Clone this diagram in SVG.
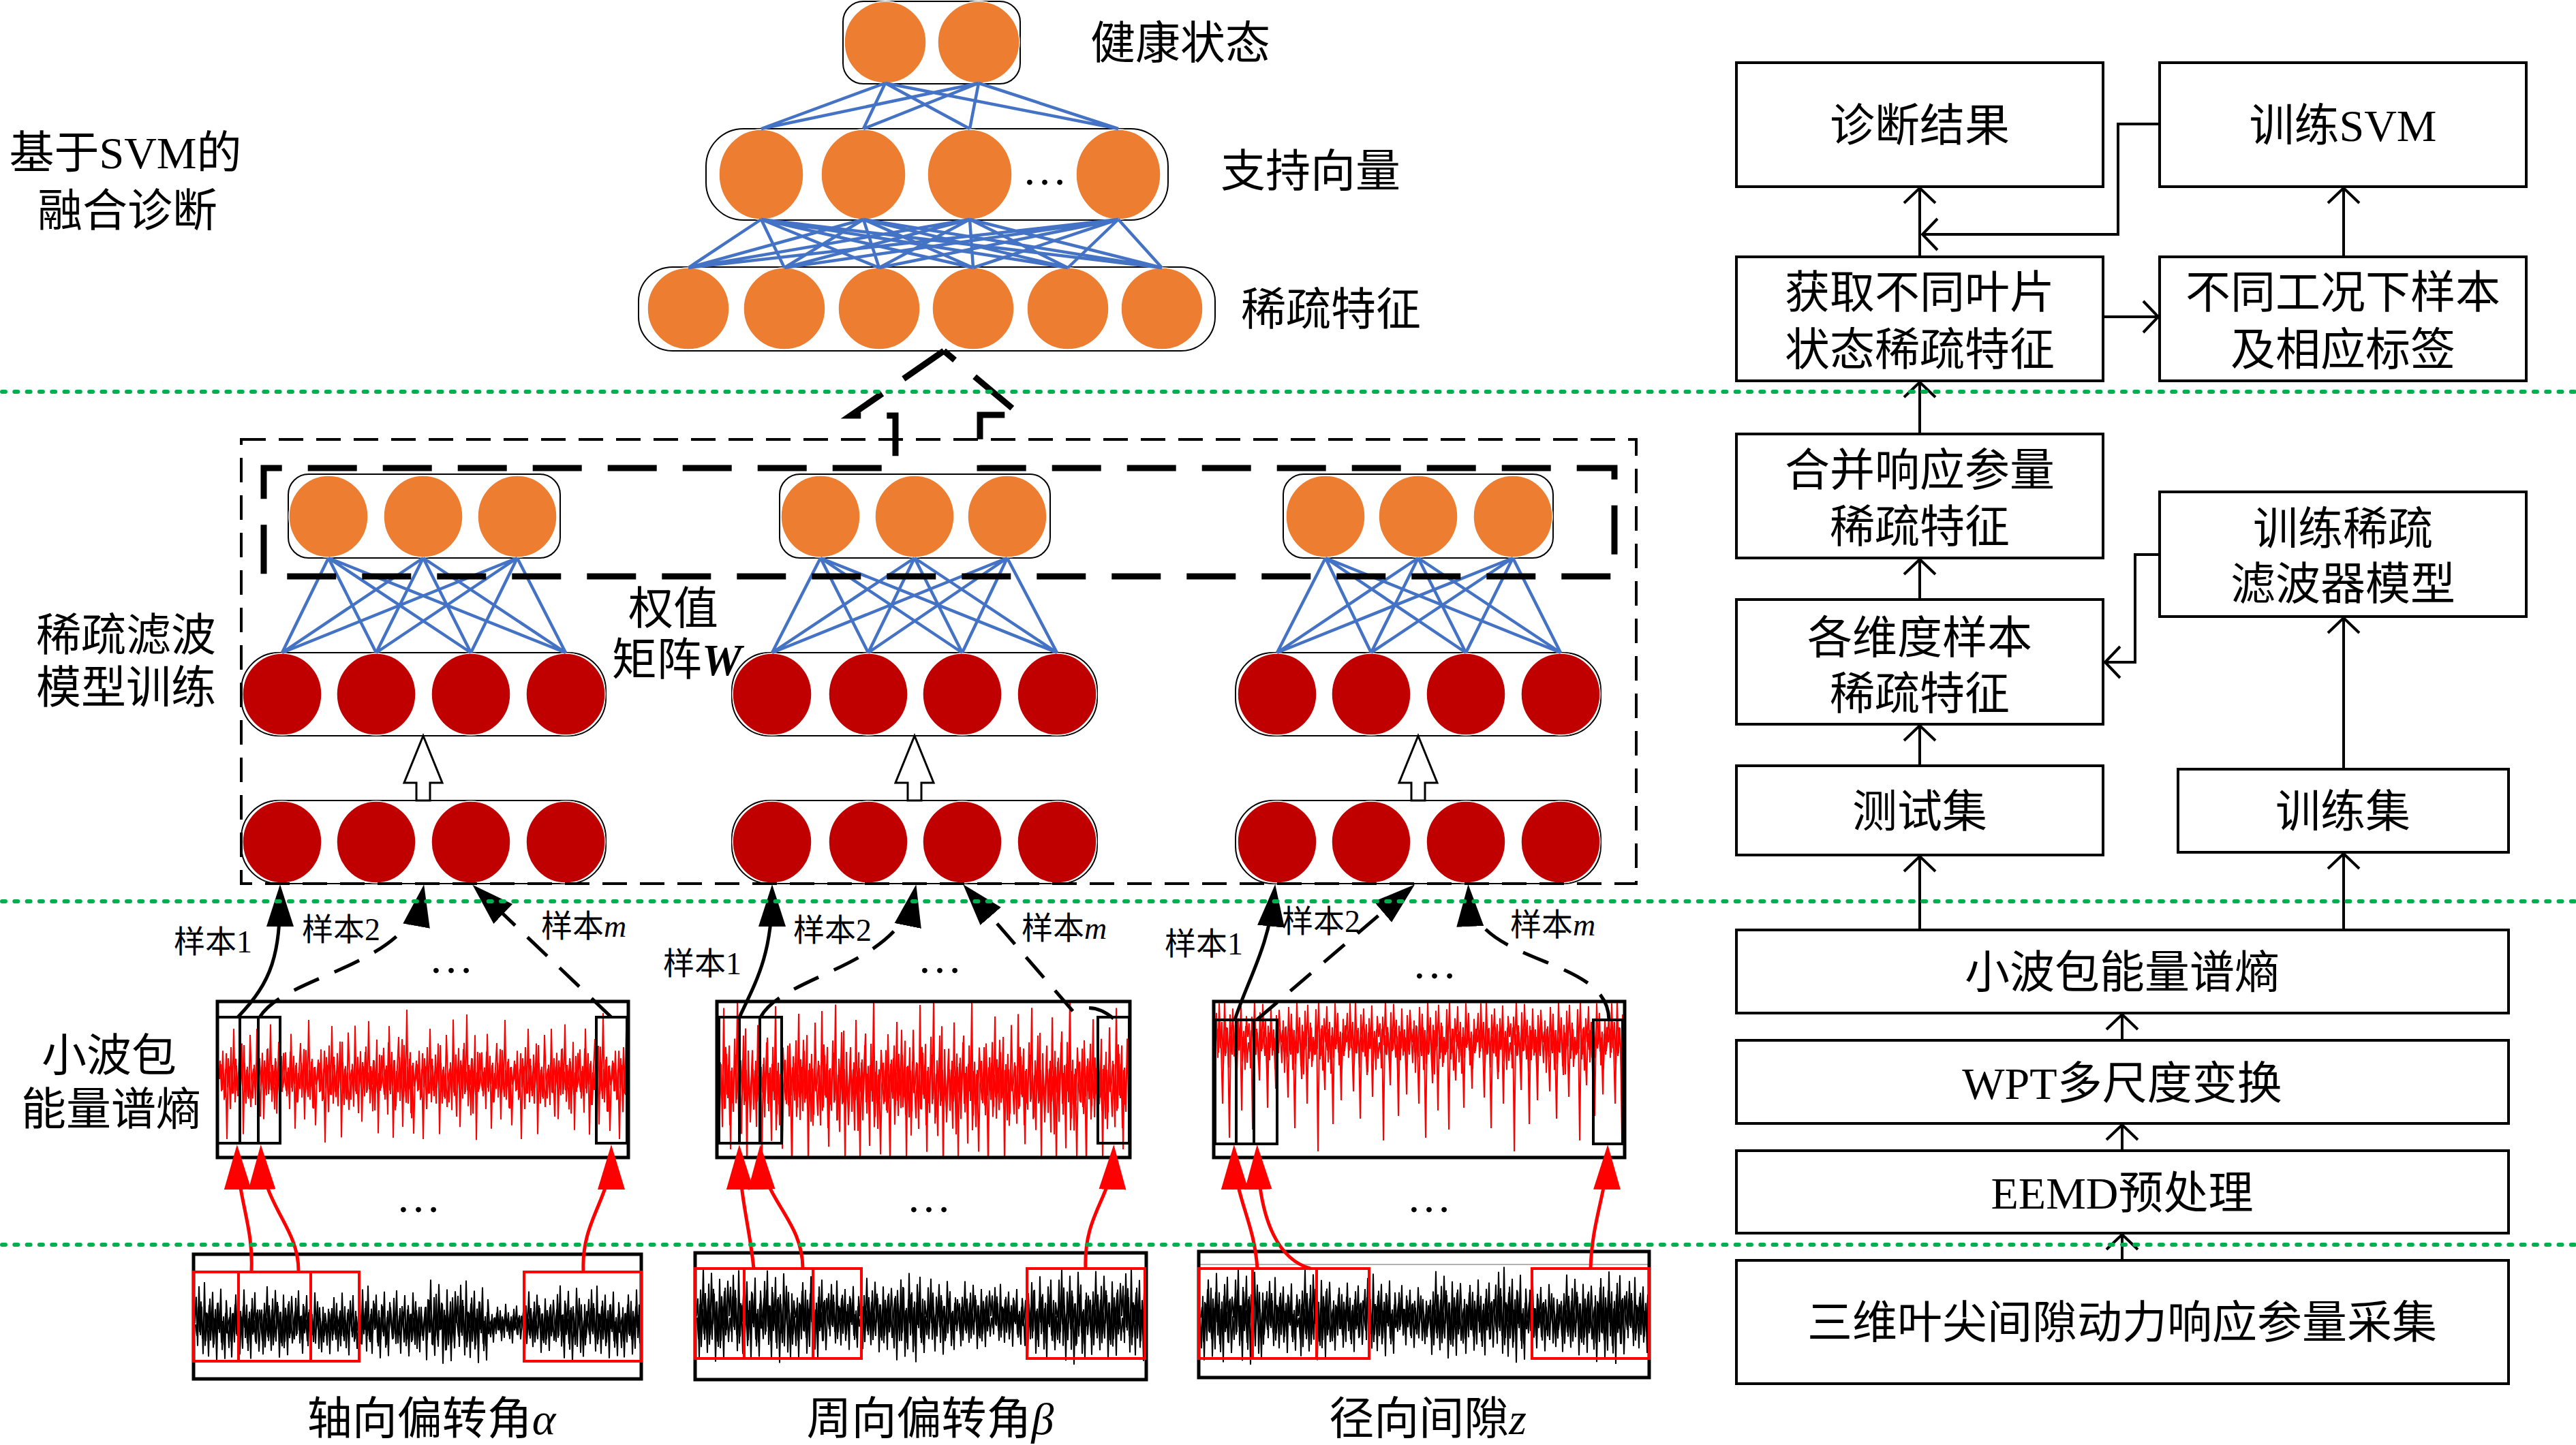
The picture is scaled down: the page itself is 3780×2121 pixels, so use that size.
<svg xmlns="http://www.w3.org/2000/svg" width="3780" height="2121" viewBox="0 0 3780 2121">
<style>
.t{font-family:"Liberation Serif","Noto Sans CJK SC",serif;font-size:66px;fill:#000}
.m{text-anchor:middle}
.s{font-size:46px}
.it{font-style:italic}
.box{fill:#fff;stroke:#000;stroke-width:4}
.lay{fill:#fff;stroke:#000;stroke-width:2}
.or{fill:#ED7D31;stroke:#fff;stroke-width:1.5}
.rd{fill:#C00000;stroke:#fff;stroke-width:1.5}
.bl{fill:none;stroke:#4472C4;stroke-width:4.5}
.grn{stroke:#00B050;stroke-width:6;stroke-dasharray:5 13.3;stroke-linecap:round;fill:none}
.flow{fill:none;stroke:#000;stroke-width:4;marker-end:url(#ao)}
.sa{fill:none;stroke:#000;stroke-width:5;marker-end:url(#ab)}
.sd{stroke-dasharray:40 25}
.ra{fill:none;stroke:#F00;stroke-width:5;marker-end:url(#ar)}
.rw{fill:none;stroke:#F00;stroke-width:4}
.sw{fill:none;stroke:#000;stroke-width:4}
.sig{fill:none;stroke:#000;stroke-width:5}
.hol{fill:#fff;stroke:#000;stroke-width:3}
</style>
<defs>
<marker id="ab" markerUnits="userSpaceOnUse" markerWidth="64" markerHeight="44" viewBox="0 0 64 44" refX="50" refY="22" orient="auto"><path d="M0,2 L62,22 L0,42 z" fill="#000"/></marker>
<marker id="ar" markerUnits="userSpaceOnUse" markerWidth="68" markerHeight="42" viewBox="0 0 68 42" refX="54" refY="21" orient="auto"><path d="M0,1 L66,21 L0,41 z" fill="#F00"/></marker>
<marker id="ao" markerUnits="userSpaceOnUse" markerWidth="32" markerHeight="54" viewBox="-28 -27 32 54" refX="0" refY="0" orient="auto" overflow="visible"><path d="M-22,-23 L0,0 L-22,23" fill="none" stroke="#000" stroke-width="4"/></marker>
<path id="s1" fill="none" vector-effect="non-scaling-stroke" d="M0,0 2,-32 4,28 6,-45 8,15 10,-20 12,38 14,-50 16,22 18,-12 20,41 22,-30 24,9 26,-38 28,26 30,-17 32,47 34,-25 36,12 38,-42 40,33 42,-8 44,44 46,-28 48,0"/>
<path id="s2" fill="none" vector-effect="non-scaling-stroke" d="M0,0 2,35 4,-22 6,48 8,-14 10,27 12,-40 14,18 16,-31 18,44 20,-9 22,36 24,-47 26,21 28,-26 30,39 32,-16 34,50 36,-35 38,13 40,-43 42,29 44,-19 46,40 48,0"/>
<path id="s3" fill="none" vector-effect="non-scaling-stroke" d="M0,0 2,-18 4,42 6,-27 8,11 10,-49 12,24 14,-6 16,37 18,-33 20,19 22,-44 24,8 26,-23 28,46 30,-15 32,31 34,-38 36,25 38,-10 40,43 42,-29 44,14 46,-36 48,0"/>
<path id="s4" fill="none" vector-effect="non-scaling-stroke" d="M0,0 2,24 4,-37 6,16 8,-48 10,30 12,-11 14,45 16,-25 18,7 20,-41 22,34 24,-20 26,49 28,-13 30,28 32,-45 34,10 36,-32 38,38 40,-7 42,43 44,-24 46,19 48,0"/>
<path id="r1" fill="none" vector-effect="non-scaling-stroke" d="M0,0 2,-14 4,11 6,-22 8,18 10,-7 12,50 14,-16 16,9 18,-25 20,13 22,-40 24,20 26,-10 28,15 30,-19 32,8 34,-28 36,46 38,-12 40,21 42,-9 44,17 46,-35 48,0"/>
<path id="r2" fill="none" vector-effect="non-scaling-stroke" d="M0,0 2,19 4,-12 6,25 8,-45 10,14 12,-18 14,8 16,-23 18,38 20,-10 22,16 24,-27 26,11 28,-49 30,22 32,-6 34,29 36,-15 38,12 40,-33 42,48 44,-20 46,9 48,0"/>
<path id="r3" fill="none" vector-effect="non-scaling-stroke" d="M0,0 2,-22 4,16 6,-9 8,27 10,-38 12,12 14,-19 16,44 18,-13 20,21 22,-8 24,-30 26,17 28,-11 30,36 32,-24 34,10 36,-50 38,19 40,-14 42,26 44,-9 46,41 48,0"/>
<path id="d1" fill="none" vector-effect="non-scaling-stroke" d="M0,0 2,-20 4,15 6,-25 8,10 10,90 12,-15 14,20 16,-22 18,8 20,140 22,-10 24,18 26,-25 28,5 30,60 32,-18 34,12 36,-20 38,100 40,-8 42,15 44,-24 46,30 48,0"/>
<path id="d2" fill="none" vector-effect="non-scaling-stroke" d="M0,0 2,18 4,-22 6,160 8,-12 10,20 12,-25 14,8 16,70 18,-15 20,12 22,-20 24,25 26,-10 28,120 30,-18 32,10 34,-22 36,15 38,-8 40,85 42,-14 44,20 46,-25 48,0"/>
<clipPath id="cb1"><rect x="286" y="1843" width="653" height="179"/></clipPath>
<clipPath id="cb2"><rect x="1022" y="1841" width="658" height="182"/></clipPath>
<clipPath id="cb3"><rect x="1761" y="1839" width="657" height="181"/></clipPath>
<clipPath id="cr1"><rect x="321" y="1472" width="599" height="225"/></clipPath>
<clipPath id="cr2"><rect x="1054" y="1472" width="602" height="225"/></clipPath>
<clipPath id="cr3"><rect x="1783" y="1472" width="599" height="225"/></clipPath>
</defs>
<rect width="3780" height="2121" fill="#fff"/>

<!-- Top SVM network -->
<g id="layer-health">
<rect class="lay" x="1237" y="2" width="260" height="121" rx="30"/>
<ellipse class="or" cx="1299" cy="62" rx="60" ry="60"/>
<ellipse class="or" cx="1436" cy="62" rx="60" ry="60"/>
</g>
<g id="layer-sv">
<rect class="lay" x="1036" y="189" width="678" height="134" rx="55"/>
<ellipse class="or" cx="1117" cy="256" rx="62" ry="66"/>
<ellipse class="or" cx="1267" cy="256" rx="62" ry="66"/>
<ellipse class="or" cx="1423" cy="256" rx="62" ry="66"/>
<ellipse class="or" cx="1641" cy="256" rx="62" ry="66"/>
<text class="t m" x="1533" y="271" font-size="60">…</text>
</g>
<g id="layer-sparse-top">
<rect class="lay" x="937" y="392" width="846" height="123" rx="50"/>
<ellipse class="or" cx="1010" cy="453" rx="60" ry="60"/>
<ellipse class="or" cx="1151" cy="453" rx="60" ry="60"/>
<ellipse class="or" cx="1290" cy="453" rx="60" ry="60"/>
<ellipse class="or" cx="1428" cy="453" rx="60" ry="60"/>
<ellipse class="or" cx="1567" cy="453" rx="60" ry="60"/>
<ellipse class="or" cx="1705" cy="453" rx="60" ry="60"/>
</g>

<!-- Sparse filter layers -->
<g id="sf-group1">
<rect class="lay" x="423" y="696" width="399" height="123" rx="30"/>
<ellipse class="or" cx="482" cy="758" rx="58" ry="60"/>
<ellipse class="or" cx="621" cy="758" rx="58" ry="60"/>
<ellipse class="or" cx="759" cy="758" rx="58" ry="60"/>
<rect class="lay" x="354" y="958" width="535" height="122" rx="55"/>
<ellipse class="rd" cx="414" cy="1019" rx="58" ry="60"/>
<ellipse class="rd" cx="552" cy="1019" rx="58" ry="60"/>
<ellipse class="rd" cx="691" cy="1019" rx="58" ry="60"/>
<ellipse class="rd" cx="830" cy="1019" rx="58" ry="60"/>
<rect class="lay" x="354" y="1175" width="535" height="122" rx="55"/>
<ellipse class="rd" cx="414" cy="1236" rx="58" ry="60"/>
<ellipse class="rd" cx="552" cy="1236" rx="58" ry="60"/>
<ellipse class="rd" cx="691" cy="1236" rx="58" ry="60"/>
<ellipse class="rd" cx="830" cy="1236" rx="58" ry="60"/>
</g>
<g id="sf-group2">
<rect class="lay" x="1144" y="696" width="397" height="123" rx="30"/>
<ellipse class="or" cx="1204" cy="758" rx="58" ry="60"/>
<ellipse class="or" cx="1342" cy="758" rx="58" ry="60"/>
<ellipse class="or" cx="1478" cy="758" rx="58" ry="60"/>
<rect class="lay" x="1074" y="958" width="536" height="122" rx="55"/>
<ellipse class="rd" cx="1133" cy="1019" rx="58" ry="60"/>
<ellipse class="rd" cx="1274" cy="1019" rx="58" ry="60"/>
<ellipse class="rd" cx="1412" cy="1019" rx="58" ry="60"/>
<ellipse class="rd" cx="1551" cy="1019" rx="58" ry="60"/>
<rect class="lay" x="1074" y="1175" width="536" height="122" rx="55"/>
<ellipse class="rd" cx="1133" cy="1236" rx="58" ry="60"/>
<ellipse class="rd" cx="1274" cy="1236" rx="58" ry="60"/>
<ellipse class="rd" cx="1412" cy="1236" rx="58" ry="60"/>
<ellipse class="rd" cx="1551" cy="1236" rx="58" ry="60"/>
</g>
<g id="sf-group3">
<rect class="lay" x="1883" y="696" width="396" height="123" rx="30"/>
<ellipse class="or" cx="1945" cy="758" rx="58" ry="60"/>
<ellipse class="or" cx="2081" cy="758" rx="58" ry="60"/>
<ellipse class="or" cx="2220" cy="758" rx="58" ry="60"/>
<rect class="lay" x="1813" y="958" width="536" height="122" rx="55"/>
<ellipse class="rd" cx="1874" cy="1019" rx="58" ry="60"/>
<ellipse class="rd" cx="2012" cy="1019" rx="58" ry="60"/>
<ellipse class="rd" cx="2151" cy="1019" rx="58" ry="60"/>
<ellipse class="rd" cx="2290" cy="1019" rx="58" ry="60"/>
<rect class="lay" x="1813" y="1175" width="536" height="122" rx="55"/>
<ellipse class="rd" cx="1874" cy="1236" rx="58" ry="60"/>
<ellipse class="rd" cx="2012" cy="1236" rx="58" ry="60"/>
<ellipse class="rd" cx="2151" cy="1236" rx="58" ry="60"/>
<ellipse class="rd" cx="2290" cy="1236" rx="58" ry="60"/>
</g>

<!-- Wavelet packet energy spectrum entropy signals (red) -->
<g id="wpe-signal1">
<g clip-path="url(#cr1)" stroke="#F00" stroke-width="2">
<use href="#r1" transform="translate(321,1582) scale(1,1.8)"/>
<use href="#r2" transform="translate(369,1582) scale(1,1.6)"/>
<use href="#r3" transform="translate(417,1582) scale(1,1.7)"/>
<use href="#r1" transform="translate(465,1582) scale(1,1.9)"/>
<use href="#r2" transform="translate(513,1582) scale(1,1.7)"/>
<use href="#r3" transform="translate(561,1582) scale(1,2.0)"/>
<use href="#r1" transform="translate(609,1582) scale(1,1.8)"/>
<use href="#r2" transform="translate(657,1582) scale(1,1.9)"/>
<use href="#r3" transform="translate(705,1582) scale(1,1.7)"/>
<use href="#r1" transform="translate(753,1582) scale(1,1.8)"/>
<use href="#r2" transform="translate(801,1582) scale(1,1.6)"/>
<use href="#r3" transform="translate(849,1582) scale(1,1.9)"/>
<use href="#r1" transform="translate(897,1582) scale(1,1.8)"/>
<use href="#r3" transform="translate(322,1584) scale(1,1.0)"/>
<use href="#r1" transform="translate(370,1584) scale(1,1.1)"/>
<use href="#r2" transform="translate(418,1584) scale(1,0.9)"/>
<use href="#r3" transform="translate(466,1584) scale(1,1.1)"/>
<use href="#r1" transform="translate(514,1584) scale(1,1.0)"/>
<use href="#r2" transform="translate(562,1584) scale(1,1.2)"/>
<use href="#r3" transform="translate(610,1584) scale(1,1.0)"/>
<use href="#r1" transform="translate(658,1584) scale(1,1.1)"/>
<use href="#r2" transform="translate(706,1584) scale(1,0.9)"/>
<use href="#r3" transform="translate(754,1584) scale(1,1.0)"/>
<use href="#r1" transform="translate(802,1584) scale(1,1.1)"/>
<use href="#r2" transform="translate(850,1584) scale(1,1.0)"/>
<use href="#r3" transform="translate(898,1584) scale(1,1.1)"/>
</g>
<rect class="sig" x="319" y="1470" width="603" height="229"/>
<rect class="sw" x="319" y="1493" width="92" height="185"/>
<path class="sw" d="M352,1493V1678M379,1493V1678"/>
<rect class="sw" x="875" y="1493" width="45" height="185"/>
</g>
<g id="wpe-signal2">
<g clip-path="url(#cr2)" stroke="#F00" stroke-width="2">
<use href="#r2" transform="translate(1054,1592) scale(1,2.5)"/>
<use href="#r3" transform="translate(1102,1592) scale(1,2.3)"/>
<use href="#r1" transform="translate(1150,1592) scale(1,2.6)"/>
<use href="#r2" transform="translate(1198,1592) scale(1,2.4)"/>
<use href="#r3" transform="translate(1246,1592) scale(1,2.5)"/>
<use href="#r1" transform="translate(1294,1592) scale(1,2.3)"/>
<use href="#r2" transform="translate(1342,1592) scale(1,2.6)"/>
<use href="#r3" transform="translate(1390,1592) scale(1,2.4)"/>
<use href="#r1" transform="translate(1438,1592) scale(1,2.5)"/>
<use href="#r2" transform="translate(1486,1592) scale(1,2.3)"/>
<use href="#r3" transform="translate(1534,1592) scale(1,2.6)"/>
<use href="#r1" transform="translate(1582,1592) scale(1,2.4)"/>
<use href="#r2" transform="translate(1630,1592) scale(1,2.5)"/>
<use href="#r3" transform="translate(1055,1590) scale(1,1.4)"/>
<use href="#r1" transform="translate(1103,1590) scale(1,1.5)"/>
<use href="#r2" transform="translate(1151,1590) scale(1,1.3)"/>
<use href="#r3" transform="translate(1199,1590) scale(1,1.5)"/>
<use href="#r1" transform="translate(1247,1590) scale(1,1.4)"/>
<use href="#r2" transform="translate(1295,1590) scale(1,1.6)"/>
<use href="#r3" transform="translate(1343,1590) scale(1,1.4)"/>
<use href="#r1" transform="translate(1391,1590) scale(1,1.5)"/>
<use href="#r2" transform="translate(1439,1590) scale(1,1.3)"/>
<use href="#r3" transform="translate(1487,1590) scale(1,1.4)"/>
<use href="#r1" transform="translate(1535,1590) scale(1,1.5)"/>
<use href="#r2" transform="translate(1583,1590) scale(1,1.4)"/>
<use href="#r3" transform="translate(1631,1590) scale(1,1.5)"/>
</g>
<rect class="sig" x="1052" y="1470" width="606" height="229"/>
<rect class="sw" x="1055" y="1493" width="92" height="185"/>
<path class="sw" d="M1085,1493V1678M1115,1493V1678"/>
<rect class="sw" x="1611" y="1493" width="46" height="185"/>
</g>
<g id="wpe-signal3">
<g clip-path="url(#cr3)" stroke="#F00" stroke-width="2">
<use href="#s1" transform="translate(1783,1522) scale(1,1.1)"/>
<use href="#s3" transform="translate(1831,1522) scale(1,1.1)"/>
<use href="#s2" transform="translate(1879,1522) scale(1,1.1)"/>
<use href="#s4" transform="translate(1927,1522) scale(1,1.1)"/>
<use href="#s1" transform="translate(1975,1522) scale(1,1.1)"/>
<use href="#s3" transform="translate(2023,1522) scale(1,1.1)"/>
<use href="#s2" transform="translate(2071,1522) scale(1,1.1)"/>
<use href="#s4" transform="translate(2119,1522) scale(1,1.1)"/>
<use href="#s1" transform="translate(2167,1522) scale(1,1.1)"/>
<use href="#s3" transform="translate(2215,1522) scale(1,1.1)"/>
<use href="#s2" transform="translate(2263,1522) scale(1,1.1)"/>
<use href="#s4" transform="translate(2311,1522) scale(1,1.1)"/>
<use href="#s1" transform="translate(2359,1522) scale(1,1.1)"/>
<use href="#d1" transform="translate(1784,1530)"/>
<use href="#d2" transform="translate(1832,1530) scale(1,0.8)"/>
<use href="#d1" transform="translate(1880,1530) scale(1,0.9)"/>
<use href="#d2" transform="translate(1928,1530)"/>
<use href="#d1" transform="translate(1976,1530) scale(1,0.8)"/>
<use href="#d2" transform="translate(2024,1530) scale(1,0.9)"/>
<use href="#d1" transform="translate(2072,1530)"/>
<use href="#d2" transform="translate(2120,1530) scale(1,0.8)"/>
<use href="#d1" transform="translate(2168,1530) scale(1,0.9)"/>
<use href="#d2" transform="translate(2216,1530)"/>
<use href="#d1" transform="translate(2264,1530) scale(1,0.8)"/>
<use href="#d2" transform="translate(2312,1530) scale(1,0.9)"/>
<use href="#d1" transform="translate(2360,1530)"/>
</g>
<rect class="sig" x="1781" y="1470" width="603" height="229"/>
<rect class="sw" x="1783" y="1497" width="91" height="182"/>
<path class="sw" d="M1814,1497V1679M1840,1497V1679"/>
<rect class="sw" x="2338" y="1497" width="43" height="182"/>
</g>

<!-- Raw response signals (black) -->
<g id="raw-signal1">
<g clip-path="url(#cb1)" stroke="#000" stroke-width="2">
<use href="#s1" transform="translate(286,1942) scale(1,1.2)"/>
<use href="#s2" transform="translate(334,1942) scale(1,1.05)"/>
<use href="#s3" transform="translate(382,1942) scale(1,1.1)"/>
<use href="#s4" transform="translate(430,1942) scale(1,1.0)"/>
<use href="#s2" transform="translate(478,1942) scale(1,0.95)"/>
<use href="#s1" transform="translate(526,1942) scale(1,1.1)"/>
<use href="#s4" transform="translate(574,1942) scale(1,1.0)"/>
<use href="#s3" transform="translate(622,1942) scale(1,1.3)"/>
<use href="#s1" transform="translate(670,1942) scale(1,1.25)"/>
<use href="#s2" transform="translate(718,1942) scale(1,0.6)"/>
<use href="#s3" transform="translate(766,1942) scale(1,0.95)"/>
<use href="#s4" transform="translate(814,1942) scale(1,1.15)"/>
<use href="#s1" transform="translate(862,1942) scale(1,1.1)"/>
<use href="#s2" transform="translate(910,1942) scale(1,1.05)"/>
<use href="#s4" transform="translate(287,1944) scale(1,0.7)"/>
<use href="#s3" transform="translate(335,1944) scale(1,0.6)"/>
<use href="#s2" transform="translate(383,1944) scale(1,0.7)"/>
<use href="#s1" transform="translate(431,1944) scale(1,0.6)"/>
<use href="#s4" transform="translate(479,1944) scale(1,0.5)"/>
<use href="#s3" transform="translate(527,1944) scale(1,0.7)"/>
<use href="#s2" transform="translate(575,1944) scale(1,0.6)"/>
<use href="#s1" transform="translate(623,1944) scale(1,0.8)"/>
<use href="#s4" transform="translate(671,1944) scale(1,0.75)"/>
<use href="#s3" transform="translate(719,1944) scale(1,0.35)"/>
<use href="#s2" transform="translate(767,1944) scale(1,0.6)"/>
<use href="#s1" transform="translate(815,1944) scale(1,0.7)"/>
<use href="#s4" transform="translate(863,1944) scale(1,0.65)"/>
<use href="#s3" transform="translate(911,1944) scale(1,0.6)"/>
</g>
<rect class="sig" x="284" y="1841" width="657" height="183"/>
<rect class="rw" x="284" y="1867" width="243" height="131"/>
<path class="rw" d="M350,1867V1998M456,1867V1998"/>
<rect class="rw" x="769" y="1867" width="172" height="131"/>
</g>
<g id="raw-signal2">
<g clip-path="url(#cb2)" stroke="#000" stroke-width="2">
<use href="#s3" transform="translate(1022,1932) scale(1,1.45)"/>
<use href="#s1" transform="translate(1070,1932) scale(1,1.35)"/>
<use href="#s4" transform="translate(1118,1932) scale(1,1.4)"/>
<use href="#s2" transform="translate(1166,1932) scale(1,1.25)"/>
<use href="#s1" transform="translate(1214,1932) scale(1,1.05)"/>
<use href="#s3" transform="translate(1262,1932) scale(1,1.15)"/>
<use href="#s2" transform="translate(1310,1932) scale(1,1.35)"/>
<use href="#s4" transform="translate(1358,1932) scale(1,1.15)"/>
<use href="#s3" transform="translate(1406,1932) scale(1,1.05)"/>
<use href="#s1" transform="translate(1454,1932) scale(1,0.95)"/>
<use href="#s2" transform="translate(1502,1932) scale(1,1.25)"/>
<use href="#s4" transform="translate(1550,1932) scale(1,1.45)"/>
<use href="#s3" transform="translate(1598,1932) scale(1,1.35)"/>
<use href="#s1" transform="translate(1646,1932) scale(1,1.4)"/>
<use href="#s2" transform="translate(1023,1934) scale(1,0.9)"/>
<use href="#s4" transform="translate(1071,1934) scale(1,0.85)"/>
<use href="#s1" transform="translate(1119,1934) scale(1,0.9)"/>
<use href="#s3" transform="translate(1167,1934) scale(1,0.8)"/>
<use href="#s4" transform="translate(1215,1934) scale(1,0.7)"/>
<use href="#s2" transform="translate(1263,1934) scale(1,0.75)"/>
<use href="#s1" transform="translate(1311,1934) scale(1,0.9)"/>
<use href="#s3" transform="translate(1359,1934) scale(1,0.75)"/>
<use href="#s2" transform="translate(1407,1934) scale(1,0.7)"/>
<use href="#s4" transform="translate(1455,1934) scale(1,0.65)"/>
<use href="#s1" transform="translate(1503,1934) scale(1,0.8)"/>
<use href="#s3" transform="translate(1551,1934) scale(1,0.9)"/>
<use href="#s2" transform="translate(1599,1934) scale(1,0.85)"/>
<use href="#s4" transform="translate(1647,1934) scale(1,0.9)"/>
</g>
<rect class="sig" x="1020" y="1839" width="662" height="186"/>
<rect class="rw" x="1020" y="1862" width="244" height="132"/>
<path class="rw" d="M1092,1862V1994M1193,1862V1994"/>
<rect class="rw" x="1507" y="1862" width="173" height="132"/>
</g>
<g id="raw-signal3">
<g clip-path="url(#cb3)" stroke="#000" stroke-width="2">
<use href="#s2" transform="translate(1761,1932) scale(1,1.35)"/>
<use href="#s4" transform="translate(1809,1932) scale(1,1.45)"/>
<use href="#s1" transform="translate(1857,1932) scale(1,1.15)"/>
<use href="#s3" transform="translate(1905,1932) scale(1,1.4)"/>
<use href="#s2" transform="translate(1953,1932) scale(1,1.05)"/>
<use href="#s1" transform="translate(2001,1932) scale(1,1.25)"/>
<use href="#s4" transform="translate(2049,1932) scale(1,0.95)"/>
<use href="#s3" transform="translate(2097,1932) scale(1,1.35)"/>
<use href="#s2" transform="translate(2145,1932) scale(1,1.15)"/>
<use href="#s1" transform="translate(2193,1932) scale(1,1.45)"/>
<use href="#s4" transform="translate(2241,1932) scale(1,1.05)"/>
<use href="#s3" transform="translate(2289,1932) scale(1,1.25)"/>
<use href="#s2" transform="translate(2337,1932) scale(1,1.4)"/>
<use href="#s1" transform="translate(2385,1932) scale(1,1.15)"/>
<use href="#s3" transform="translate(1762,1934) scale(1,0.85)"/>
<use href="#s1" transform="translate(1810,1934) scale(1,0.9)"/>
<use href="#s4" transform="translate(1858,1934) scale(1,0.75)"/>
<use href="#s2" transform="translate(1906,1934) scale(1,0.9)"/>
<use href="#s3" transform="translate(1954,1934) scale(1,0.7)"/>
<use href="#s4" transform="translate(2002,1934) scale(1,0.8)"/>
<use href="#s1" transform="translate(2050,1934) scale(1,0.65)"/>
<use href="#s2" transform="translate(2098,1934) scale(1,0.85)"/>
<use href="#s3" transform="translate(2146,1934) scale(1,0.75)"/>
<use href="#s4" transform="translate(2194,1934) scale(1,0.9)"/>
<use href="#s1" transform="translate(2242,1934) scale(1,0.7)"/>
<use href="#s2" transform="translate(2290,1934) scale(1,0.8)"/>
<use href="#s3" transform="translate(2338,1934) scale(1,0.9)"/>
<use href="#s4" transform="translate(2386,1934) scale(1,0.75)"/>
</g>
<line x1="1761" y1="1856" x2="2418" y2="1856" stroke="#999" stroke-width="1.5"/>
<rect class="sig" x="1759" y="1837" width="661" height="185"/>
<rect class="rw" x="1759" y="1862" width="250" height="132"/>
<path class="rw" d="M1838,1862V1994M1932,1862V1994"/>
<rect class="rw" x="2248" y="1862" width="172" height="132"/>
</g>

<!-- Right flow chart -->
<g id="n-diag"><rect class="box" x="2548" y="92" width="538" height="182"/><text class="t m" x="2817" y="207">诊断结果</text></g>
<g id="n-trainsvm"><rect class="box" x="3169" y="92" width="538" height="182"/><text class="t m" x="3438" y="207">训练SVM</text></g>
<g id="n-getfeat"><rect class="box" x="2548" y="377" width="538" height="182"/><text class="t m" x="2817" y="452">获取不同叶片</text><text class="t m" x="2817" y="536">状态稀疏特征</text></g>
<g id="n-samples"><rect class="box" x="3169" y="377" width="538" height="182"/><text class="t m" x="3438" y="452">不同工况下样本</text><text class="t m" x="3438" y="536">及相应标签</text></g>
<g id="n-merge"><rect class="box" x="2548" y="637" width="538" height="182"/><text class="t m" x="2817" y="713">合并响应参量</text><text class="t m" x="2817" y="796">稀疏特征</text></g>
<g id="n-trainsf"><rect class="box" x="3169" y="722" width="538" height="183"/><text class="t m" x="3438" y="799">训练稀疏</text><text class="t m" x="3438" y="880">滤波器模型</text></g>
<g id="n-dimfeat"><rect class="box" x="2548" y="880" width="538" height="183"/><text class="t m" x="2817" y="959">各维度样本</text><text class="t m" x="2817" y="1041">稀疏特征</text></g>
<g id="n-test"><rect class="box" x="2548" y="1124" width="538" height="131"/><text class="t m" x="2817" y="1214">测试集</text></g>
<g id="n-train"><rect class="box" x="3196" y="1129" width="485" height="122"/><text class="t m" x="3438" y="1214">训练集</text></g>
<g id="n-wpe"><rect class="box" x="2548" y="1365" width="1133" height="122"/><text class="t m" x="3114" y="1450">小波包能量谱熵</text></g>
<g id="n-wpt"><rect class="box" x="2548" y="1527" width="1133" height="122"/><text class="t m" x="3114" y="1613">WPT多尺度变换</text></g>
<g id="n-eemd"><rect class="box" x="2548" y="1689" width="1133" height="121"/><text class="t m" x="3114" y="1774">EEMD预处理</text></g>
<g id="n-acq"><rect class="box" x="2548" y="1850" width="1133" height="181"/><text class="t m" x="3114" y="1964">三维叶尖间隙动力响应参量采集</text></g>

<!-- Connectors -->
<g id="connectors">
<path class="bl" d="M1299,122L1117,189M1299,122L1267,189M1299,122L1423,189M1299,122L1641,189M1436,122L1117,189M1436,122L1267,189M1436,122L1423,189M1436,122L1641,189"/>
<path class="bl" d="M1117,322L1010,393M1117,322L1151,393M1117,322L1290,393M1117,322L1428,393M1117,322L1567,393M1117,322L1705,393M1267,322L1010,393M1267,322L1151,393M1267,322L1290,393M1267,322L1428,393M1267,322L1567,393M1267,322L1705,393M1423,322L1010,393M1423,322L1151,393M1423,322L1290,393M1423,322L1428,393M1423,322L1567,393M1423,322L1705,393M1641,322L1010,393M1641,322L1151,393M1641,322L1290,393M1641,322L1428,393M1641,322L1567,393M1641,322L1705,393"/>
<path class="bl" d="M482,819L414,958M482,819L552,958M482,819L691,958M482,819L830,958M621,819L414,958M621,819L552,958M621,819L691,958M621,819L830,958M759,819L414,958M759,819L552,958M759,819L691,958M759,819L830,958"/>
<path class="bl" d="M1204,819L1133,958M1204,819L1274,958M1204,819L1412,958M1204,819L1551,958M1342,819L1133,958M1342,819L1274,958M1342,819L1412,958M1342,819L1551,958M1478,819L1133,958M1478,819L1274,958M1478,819L1412,958M1478,819L1551,958"/>
<path class="bl" d="M1945,819L1874,958M1945,819L2012,958M1945,819L2151,958M1945,819L2290,958M2081,819L1874,958M2081,819L2012,958M2081,819L2151,958M2081,819L2290,958M2220,819L1874,958M2220,819L2012,958M2220,819L2151,958M2220,819L2290,958"/>
<rect x="354" y="645" width="2047" height="652" fill="none" stroke="#000" stroke-width="4" stroke-dasharray="36 19"/>
<path d="M1385,515 L1248,610 H1314 V687 H387 V846 H2369 V687 H1438 V609 H1497 L1385,515" fill="none" stroke="#000" stroke-width="9" stroke-dasharray="72 38"/>
<polygon class="hol" points="621,1080 649,1149 631,1149 631,1175 611,1175 611,1149 593,1149"/>
<polygon class="hol" points="1342,1080 1370,1149 1352,1149 1352,1175 1332,1175 1332,1149 1314,1149"/>
<polygon class="hol" points="2081,1080 2109,1149 2091,1149 2091,1175 2071,1175 2071,1149 2053,1149"/>
<path class="sa" d="M349,1493 C400,1440 411,1400 411,1310"/>
<path class="sa sd" d="M381,1493 C420,1430 600,1420 620,1310"/>
<path class="sa sd" d="M897,1493 L702,1307"/>
<path class="sa" d="M1085,1493 C1110,1440 1133,1400 1133,1310"/>
<path class="sa sd" d="M1116,1493 C1150,1430 1320,1420 1342,1310"/>
<path class="sa sd" d="M1634,1495 Q1605,1470 1575,1485 L1421,1307"/>
<path class="sa" d="M1812,1497 C1830,1440 1862,1390 1870,1310"/>
<path class="sa sd" d="M1844,1497 L2067,1306"/>
<path class="sa sd" d="M2361,1497 C2360,1400 2160,1420 2155,1310"/>
<path class="ra" d="M369,1865 C372,1800 349,1760 348,1692"/>
<path class="ra" d="M438,1865 C438,1800 385,1770 383,1692"/>
<path class="ra" d="M856,1865 C853,1790 897,1760 897,1692"/>
<path class="ra" d="M1106,1862 C1100,1800 1086,1760 1085,1692"/>
<path class="ra" d="M1178,1862 C1178,1790 1118,1760 1116,1692"/>
<path class="ra" d="M1593,1862 C1590,1780 1632,1760 1634,1692"/>
<path class="ra" d="M1845,1862 C1840,1790 1812,1760 1811,1692"/>
<path class="ra" d="M1923,1862 C1880,1850 1848,1800 1845,1692"/>
<path class="ra" d="M2334,1862 C2336,1790 2358,1750 2359,1692"/>
<path class="flow" d="M2817,377V276"/>
<path class="flow" d="M3439,377V276"/>
<path class="flow" d="M3087,465H3167"/>
<path class="flow" d="M3169,182H3108V344H2821"/>
<path class="flow" d="M2817,637V561"/>
<path class="flow" d="M2817,880V821"/>
<path class="flow" d="M3169,814H3133V972H3089"/>
<path class="flow" d="M2817,1124V1065"/>
<path class="flow" d="M3439,1129V907"/>
<path class="flow" d="M2817,1365V1257"/>
<path class="flow" d="M3439,1365V1253"/>
<path class="flow" d="M3114,1527V1489"/>
<path class="flow" d="M3114,1689V1651"/>
<path class="flow" d="M3114,1850V1812"/>
</g>

<!-- Stage separators -->
<g id="separators">
<line class="grn" x1="3" y1="575" x2="3780" y2="575"/>
<line class="grn" x1="3" y1="1323" x2="3780" y2="1323"/>
<line class="grn" x1="3" y1="1827" x2="3780" y2="1827"/>
</g>

<!-- Labels -->
<g id="labels">
<text class="t" x="1600" y="86">健康状态</text>
<text class="t" x="1791" y="274">支持向量</text>
<text class="t" x="1821" y="477">稀疏特征</text>
<text class="t m" x="184" y="247">基于SVM的</text>
<text class="t m" x="187" y="332">融合诊断</text>
<text class="t m" x="185" y="955">稀疏滤波</text>
<text class="t m" x="185" y="1032">模型训练</text>
<text class="t m" x="988" y="916">权值</text>
<text class="t m" x="993" y="991">矩阵<tspan font-weight="bold" font-style="italic">W</tspan></text>
<text class="t m" x="160" y="1572">小波包</text>
<text class="t m" x="163" y="1651">能量谱熵</text>
<text class="t s" x="255" y="1398">样本1</text>
<text class="t s" x="443" y="1380">样本2</text>
<text class="t s" x="794" y="1375">样本<tspan class="it">m</tspan></text>
<text class="t s" x="973" y="1430">样本1</text>
<text class="t s" x="1164" y="1381">样本2</text>
<text class="t s" x="1499" y="1378">样本<tspan class="it">m</tspan></text>
<text class="t s" x="1709" y="1401">样本1</text>
<text class="t s" x="1881" y="1368">样本2</text>
<text class="t s" x="2216" y="1373">样本<tspan class="it">m</tspan></text>
<text class="t m" x="662" y="1428" font-size="60">…</text>
<text class="t m" x="1379" y="1428" font-size="60">…</text>
<text class="t m" x="2105" y="1436" font-size="60">…</text>
<text class="t m" x="614" y="1779" font-size="60">…</text>
<text class="t m" x="1363" y="1779" font-size="60">…</text>
<text class="t m" x="2097" y="1779" font-size="60">…</text>
<text class="t m" x="633" y="2105">轴向偏转角<tspan class="it">α</tspan></text>
<text class="t m" x="1365" y="2105">周向偏转角<tspan class="it">β</tspan></text>
<text class="t m" x="2095" y="2105">径向间隙<tspan class="it">z</tspan></text>
</g>
</svg>
